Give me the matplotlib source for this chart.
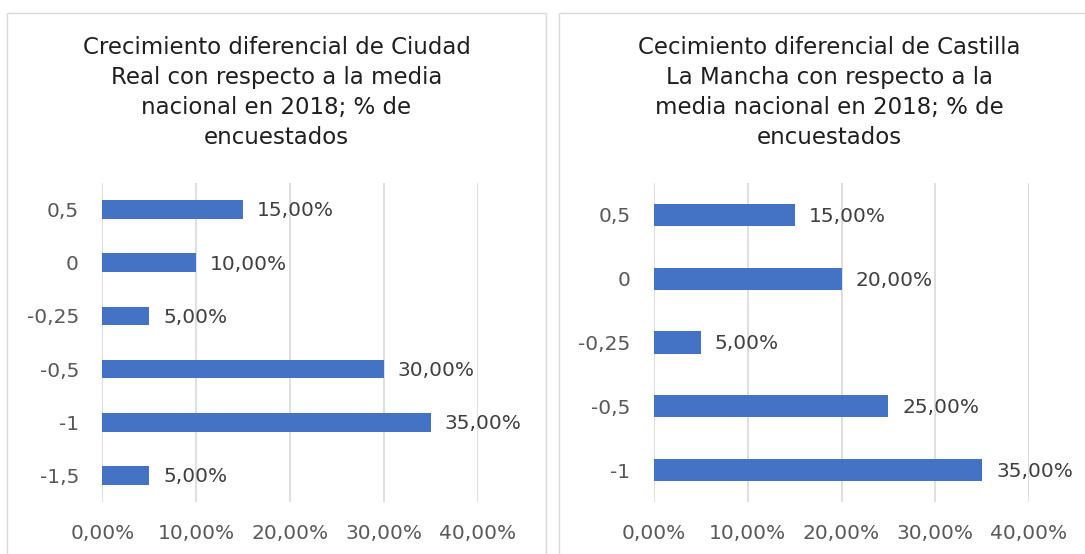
import matplotlib.pyplot as plt
from matplotlib.patches import Rectangle
from matplotlib.ticker import FuncFormatter

# Ciudad Real
cr_title = "Crecimiento diferencial de Ciudad\nReal con respecto a la media\nnacional en 2018; % de\nencuestados"
cr_labels = ["0,5", "0", "-0,25", "-0,5", "-1", "-1,5"]
cr_values = [0.15, 0.10, 0.05, 0.30, 0.35, 0.05]

# Castilla La Mancha
clm_title = "Cecimiento diferencial de Castilla\nLa Mancha con respecto a la\nmedia nacional en 2018; % de\nencuestados"
clm_labels = ["0,5", "0", "-0,25", "-0,5", "-1"]
clm_values = [0.15, 0.20, 0.05, 0.25, 0.35]

xticks = [0, 0.1, 0.2, 0.3, 0.4]

plt.rcParams['font.family'] = ['DejaVu Sans']
W, H = 1085, 554
fig = plt.figure(figsize=(W / 100, H / 100), dpi=100)

BAR = "#4472C4"
GRID = "#d9d9d9"
TICK = "#595959"
LABEL = "#404040"


def pct(v, _=None):
    return f"{v * 100:.2f}%".replace(".", ",")


def panel(x0, x1, ax_left, labels, values, title):
    # border of the chart area
    fig.patches.append(Rectangle((x0 / W, -0.1), (x1 - x0) / W, 1.1 - 13 / H,
                                 transform=fig.transFigure, fill=False,
                                 edgecolor=GRID, linewidth=1.0))
    fig.text((x0 + x1) / 2 / W, 1 - 36 / H, title, ha="center", va="top",
             fontsize=16.5, color="#1f1f1f", linespacing=1.38)

    ax = fig.add_axes([ax_left / W, 1 - 502 / H, 375 / W, 319 / H])
    pos = range(len(labels))
    ax.barh(pos, values, height=0.35, color=BAR)
    ax.set_ylim(len(labels) - 0.5, -0.5)
    ax.set_xlim(0, 0.4)
    ax.set_yticks(list(pos))
    ax.set_yticklabels(labels)
    ax.set_xticks(xticks)
    ax.xaxis.set_major_formatter(FuncFormatter(pct))
    ax.grid(axis="x", color=GRID, linewidth=1.2)
    ax.set_axisbelow(True)
    for s in ax.spines.values():
        s.set_visible(False)
    ax.tick_params(length=0, labelsize=14.5, colors=TICK)
    ax.tick_params(axis="y", pad=17)
    ax.tick_params(axis="x", pad=15.5)
    for i, v in enumerate(values):
        ax.annotate(pct(v), (v, i), xytext=(10, -1), textcoords="offset points",
                    ha="left", va="center", fontsize=14.5, color=LABEL,
                    annotation_clip=False)
    return ax


panel(7, 546, 102.5, cr_labels, cr_values, cr_title)
panel(559, 1100, 654, clm_labels, clm_values, clm_title)

fig.savefig("out.png", dpi=100, facecolor="white")
